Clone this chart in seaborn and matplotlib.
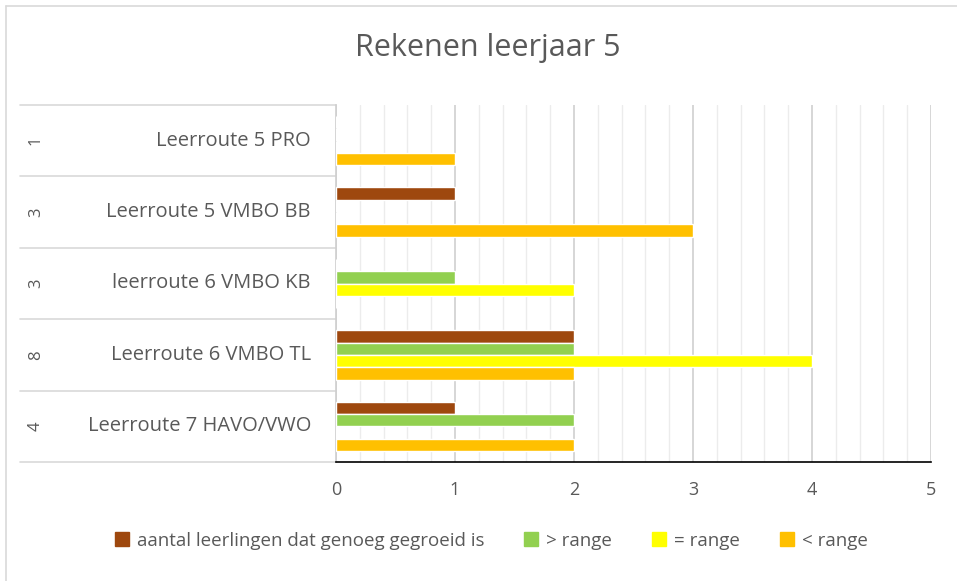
import numpy as np
import pandas as pd
import seaborn as sns
import matplotlib.pyplot as plt
from matplotlib.lines import Line2D
from matplotlib.transforms import blended_transform_factory

routes = ["Leerroute 5 PRO", "Leerroute 5 VMBO BB", "leerroute 6 VMBO KB",
          "Leerroute 6 VMBO TL", "Leerroute 7 HAVO/VWO"]
counts = ["1", "3", "3", "8", "4"]
series = ["aantal leerlingen dat genoeg gegroeid is", "> range", "= range", "< range"]
genoeg = [0, 1, 0, 2, 1]
boven = [0, 0, 1, 2, 2]
gelijk = [0, 0, 2, 4, 0]
onder = [1, 3, 0, 2, 2]
colors = ["#9e480e", "#92d050", "#ffff00", "#ffc000"]

df = pd.DataFrame({"route": routes * 4,
                   "serie": np.repeat(series, len(routes)),
                   "waarde": genoeg + boven + gelijk + onder})

sns.set_theme(style="white")
plt.rcParams['font.family'] = ['Open Sans', 'DejaVu Sans']
grey = "#595959"

fig = plt.figure(figsize=(9.57, 5.81), dpi=100)
ax = fig.add_axes([336 / 957, 1 - 462 / 581, 595 / 957, 357 / 581])

sns.barplot(data=df, y="route", x="waarde", hue="serie", order=routes,
            hue_order=series, palette=colors, orient="h", width=0.69,
            gap=0, saturation=1, ax=ax, legend=True, zorder=3)

ax.set_xlim(0, 5)
ax.set_ylim(len(routes) - 0.5, -0.5)
ax.set_xticks(range(6))
ax.set_xticks(np.arange(0, 5.01, 0.2), minor=True)
ax.grid(axis="x", which="major", color="#d0d0d0", lw=1.2, zorder=0)
ax.grid(axis="x", which="minor", color="#ececec", lw=1, zorder=0)
ax.tick_params(axis="x", which="both", length=0, labelsize=13, labelcolor=grey, pad=14)
ax.tick_params(axis="y", length=0)
ax.set_yticklabels([])
ax.set_xlabel("")
ax.set_ylabel("")
for s in ["top", "right"]:
    ax.spines[s].set_visible(False)
ax.spines["left"].set_color("#d0d0d0")
ax.spines["bottom"].set_color("#000000")
ax.spines["bottom"].set_linewidth(1.2)

# category table on the left
tr = blended_transform_factory(ax.transAxes, ax.transData)
x0 = (20 - 336) / 595
for b in np.arange(-0.5, len(routes), 1):
    ax.plot([x0, 0], [b, b], color="#d9d9d9", lw=1.2, transform=tr, clip_on=False)
for i, (r, c) in enumerate(zip(routes, counts)):
    ax.text((311 - 336) / 595, i, r, transform=tr, ha="right", va="center",
            fontsize=14.5, color=grey)
    ax.text((36 - 336) / 595, i, c, transform=tr, ha="center", va="center",
            fontsize=12, color=grey, rotation=90)

fig.text(488 / 957, 1 - 48 / 581, "Rekenen leerjaar 5", ha="center", va="center",
         fontsize=22, color=grey)

ax.get_legend().remove()
handles = [Line2D([], [], marker="s", ls="", markersize=10, color=c) for c in colors]
fig.legend(handles, series, loc="center", bbox_to_anchor=(490 / 957, 1 - 541 / 581),
           ncol=4, frameon=False, fontsize=13.5, labelcolor=grey, handletextpad=0.3,
           columnspacing=2.0, handlelength=1)

# chart border
fig.add_artist(Line2D([6 / 957, 1], [1 - 6 / 581, 1 - 6 / 581], color="#d9d9d9",
                      lw=1.2, transform=fig.transFigure))
fig.add_artist(Line2D([6 / 957, 6 / 957], [0, 1 - 6 / 581], color="#d9d9d9",
                      lw=1.2, transform=fig.transFigure))

fig.savefig("out.png", dpi=100)
